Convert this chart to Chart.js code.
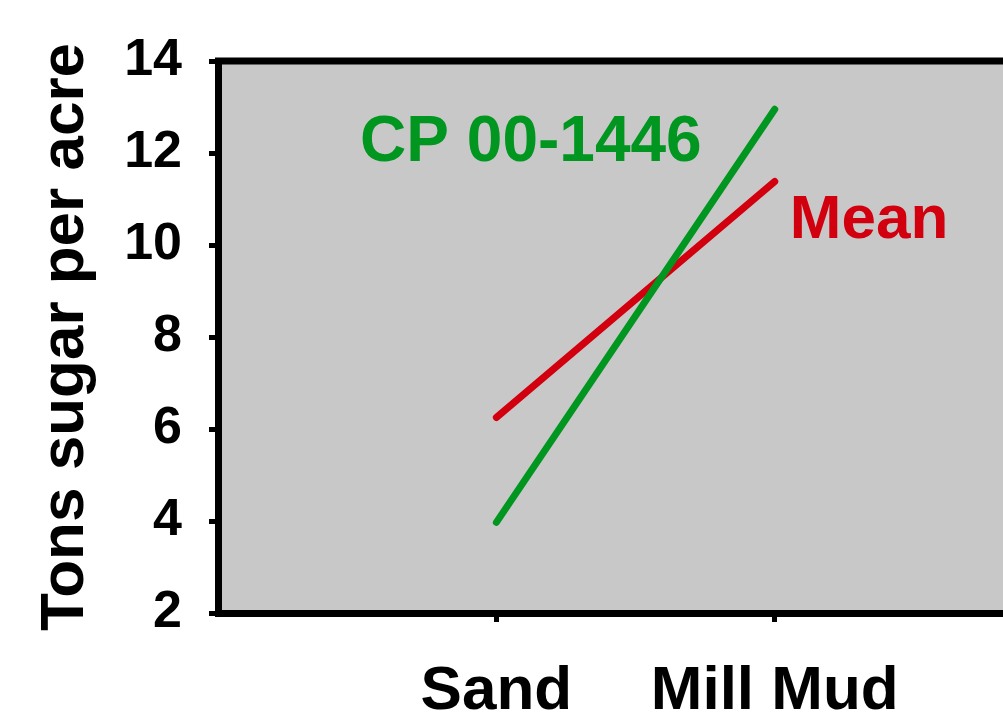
<!DOCTYPE html>
<html lang="en">
<head>
    <meta charset="UTF-8">
    <title>Tons sugar per acre</title>
    <script src="https://cdn.jsdelivr.net/npm/chart.js"></script>
    <style>
        body { margin: 0; background: #fff; overflow: hidden; }
        #wrap { width: 1003px; height: 724px; position: relative; }
    </style>
</head>
<body>
    <div id="wrap"><canvas id="sugarChart"></canvas></div>

    <script>
        // values
        const categories = ['Sand', 'Mill Mud'];
        const cpValues = [3.97, 12.95];
        const meanValues = [6.25, 11.38];
        const seriesNames = ['CP 00-1446', 'Mean'];
        const yTicks = [2, 4, 6, 8, 10, 12, 14];

        const green = '#009620';
        const red = '#D2000F';
        const fontFam = "'Liberation Sans', Arial, sans-serif";

        const toPoints = vals => vals.map((v, i) => ({ x: i + 1, y: v }));

        // gray plot box + top border
        const plotBox = {
            id: 'plotBox',
            beforeDraw(chart) {
                const { ctx, chartArea: a } = chart;
                ctx.save();
                ctx.fillStyle = '#C8C8C8';
                ctx.fillRect(a.left, a.top, chart.width - a.left, a.bottom - a.top);
                ctx.restore();
            },
            afterDraw(chart) {
                const { ctx, chartArea: a } = chart;
                ctx.save();
                ctx.strokeStyle = '#000';
                ctx.lineWidth = 7;
                ctx.beginPath();
                ctx.moveTo(a.left - 3, a.top);
                ctx.lineTo(chart.width, a.top);
                ctx.stroke();
                ctx.restore();
            }
        };

        // series names written next to the lines
        const lineNames = {
            id: 'lineNames',
            afterDatasetsDraw(chart) {
                const { ctx, scales: { x, y } } = chart;
                const spots = [
                    { x: 1.124, y: 11.83, align: 'center', size: 64 },
                    { x: 2.054, y: 10.15, align: 'left', size: 62 }
                ];
                ctx.save();
                chart.data.datasets.forEach((ds, i) => {
                    const s = spots[i];
                    ctx.font = 'bold ' + s.size + 'px ' + fontFam;
                    ctx.fillStyle = ds.borderColor;
                    ctx.textAlign = s.align;
                    ctx.textBaseline = 'alphabetic';
                    ctx.fillText(ds.label, x.getPixelForValue(s.x), y.getPixelForValue(s.y));
                });
                ctx.restore();
            }
        };

        new Chart(document.getElementById('sugarChart'), {
            type: 'line',
            data: {
                datasets: [
                    {
                        label: seriesNames[0],
                        data: toPoints(cpValues),
                        borderColor: green,
                        borderWidth: 7,
                        borderCapStyle: 'round',
                        pointRadius: 0,
                        fill: false
                    },
                    {
                        label: seriesNames[1],
                        data: toPoints(meanValues),
                        borderColor: red,
                        borderWidth: 7,
                        borderCapStyle: 'round',
                        pointRadius: 0,
                        fill: false
                    }
                ]
            },
            options: {
                responsive: true,
                maintainAspectRatio: false,
                animation: false,
                layout: { padding: { top: 61, left: 0, right: 0, bottom: 0 } },
                plugins: {
                    legend: { display: false },
                    tooltip: { enabled: false }
                },
                scales: {
                    x: {
                        type: 'linear',
                        min: 0,
                        max: 2.82,
                        afterBuildTicks: axis => {
                            axis.ticks = categories.map((c, i) => ({ value: i + 1 }));
                        },
                        afterFit: axis => { axis.height = 111; },
                        ticks: {
                            callback: v => categories[v - 1],
                            color: '#000',
                            padding: 33,
                            maxRotation: 0,
                            font: { family: fontFam, weight: 'bold', size: 62 }
                        },
                        grid: { drawOnChartArea: false, tickLength: 9, tickWidth: 5, tickColor: '#000' },
                        border: { color: '#000', width: 7 }
                    },
                    y: {
                        min: 2,
                        max: 14,
                        afterBuildTicks: axis => {
                            axis.ticks = yTicks.map(v => ({ value: v }));
                        },
                        afterFit: axis => { axis.width = 218; },
                        ticks: {
                            color: '#000',
                            padding: 27,
                            font: { family: fontFam, weight: 'bold', size: 52 }
                        },
                        grid: { drawOnChartArea: false, tickLength: 9, tickWidth: 5, tickColor: '#000' },
                        border: { color: '#000', width: 7 },
                        title: {
                            display: true,
                            text: 'Tons sugar per acre',
                            color: '#000',
                            padding: { top: 29, bottom: 0 },
                            font: { family: fontFam, weight: 'bold', size: 62 }
                        }
                    }
                }
            },
            plugins: [plotBox, lineNames]
        });
    </script>
</body>
</html>
